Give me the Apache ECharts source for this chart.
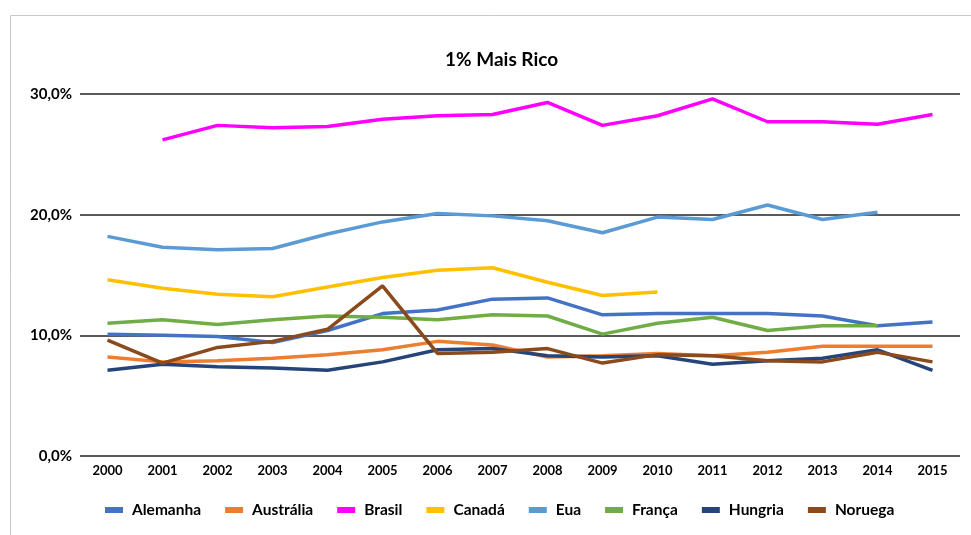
<!DOCTYPE html>
<html>
<head>
<meta charset="utf-8">
<script src="https://cdn.jsdelivr.net/npm/echarts@6/dist/echarts.min.js"></script>
<style>
  html, body { margin: 0; padding: 0; background: #fff; }
  #chart { width: 971px; height: 535px; }
</style>
</head>
<body>
<div id="chart"></div>
<script>
// Share of income held by the richest 1%, by country, 2000-2015 (%)
const years = ['2000','2001','2002','2003','2004','2005','2006','2007','2008','2009','2010','2011','2012','2013','2014','2015'];

const alemanha  = [10.1, 10.0, 9.9, 9.4, 10.4, 11.8, 12.1, 13.0, 13.1, 11.7, 11.8, 11.8, 11.8, 11.6, 10.8, 11.1];
const australia = [8.2, 7.8, 7.9, 8.1, 8.4, 8.8, 9.5, 9.2, 8.2, 8.3, 8.5, 8.3, 8.6, 9.1, 9.1, 9.1];
const brasil    = [null, 26.2, 27.4, 27.2, 27.3, 27.9, 28.2, 28.3, 29.3, 27.4, 28.2, 29.6, 27.7, 27.7, 27.5, 28.3];
const canada    = [14.6, 13.9, 13.4, 13.2, 14.0, 14.8, 15.4, 15.6, 14.4, 13.3, 13.6, null, null, null, null, null];
const eua       = [18.2, 17.3, 17.1, 17.2, 18.4, 19.4, 20.1, 19.9, 19.5, 18.5, 19.8, 19.6, 20.8, 19.6, 20.2, null];
const franca    = [11.0, 11.3, 10.9, 11.3, 11.6, 11.5, 11.3, 11.7, 11.6, 10.1, 11.0, 11.5, 10.4, 10.8, 10.8, null];
const hungria   = [7.1, 7.6, 7.4, 7.3, 7.1, 7.8, 8.8, 8.9, 8.3, 8.2, 8.3, 7.6, 7.9, 8.1, 8.8, 7.1];
const noruega   = [9.6, 7.7, 9.0, 9.5, 10.5, 14.1, 8.5, 8.6, 8.9, 7.7, 8.4, 8.3, 7.9, 7.8, 8.6, 7.8];

const yTicks = { min: 0, max: 30, interval: 10 };

const seriesDefs = [
  { name: 'Alemanha',  data: alemanha,  color: '#4472C4' },
  { name: 'Austrália', data: australia, color: '#ED7D31' },
  { name: 'Brasil',    data: brasil,    color: '#FF00FF' },
  { name: 'Canadá',    data: canada,    color: '#FFC000' },
  { name: 'Eua',       data: eua,       color: '#5B9BD5' },
  { name: 'França',    data: franca,    color: '#70AD47' },
  { name: 'Hungria',   data: hungria,   color: '#264478' },
  { name: 'Noruega',   data: noruega,   color: '#8B4A1C' }
];

const FONT = 'Lato, "Open Sans", sans-serif';

const chart = echarts.init(document.getElementById('chart'), null, { renderer: 'canvas' });

chart.setOption({
  animation: false,
  backgroundColor: '#ffffff',
  color: seriesDefs.map(s => s.color),
  graphic: [
    {
      type: 'rect',
      shape: { x: 10.5, y: 15.5, width: 970, height: 530 },
      style: { fill: 'none', stroke: '#c8c8c8', lineWidth: 1 },
      silent: true
    }
  ],
  title: {
    text: '1% Mais Rico',
    left: 440,
    top: 45,
    textStyle: { fontFamily: FONT, fontSize: 19, fontWeight: 'bold', color: '#000' }
  },
  legend: {
    bottom: 12,
    left: 100,
    itemWidth: 18,
    itemHeight: 6,
    itemGap: 24,
    icon: 'rect',
    data: seriesDefs.map(s => s.name),
    textStyle: { fontFamily: FONT, fontSize: 15.5, fontWeight: 'bold', color: '#000', padding: [0, 0, 0, 4] }
  },
  grid: { left: 80, right: 11, top: 94, bottom: 79, containLabel: false },
  xAxis: {
    type: 'category',
    data: years,
    boundaryGap: true,
    axisLine: { show: false },
    axisTick: { show: false },
    axisLabel: { fontFamily: FONT, fontSize: 13, fontWeight: 'bold', color: '#000', margin: 8 }
  },
  yAxis: {
    type: 'value',
    min: yTicks.min,
    max: yTicks.max,
    interval: yTicks.interval,
    axisLine: { show: false },
    axisTick: { show: false },
    axisLabel: {
      fontFamily: FONT, fontSize: 15, fontWeight: 'bold', color: '#000', margin: 8,
      formatter: v => v.toFixed(1).replace('.', ',') + '%'
    },
    splitLine: { lineStyle: { color: '#5a5a5a', width: 2 } }
  },
  series: seriesDefs.map(s => ({
    name: s.name,
    type: 'line',
    data: s.data,
    showSymbol: false,
    symbol: 'none',
    connectNulls: false,
    lineStyle: { width: 3.5, color: s.color },
    itemStyle: { color: s.color },
    emphasis: { disabled: true }
  }))
});
</script>
</body>
</html>
